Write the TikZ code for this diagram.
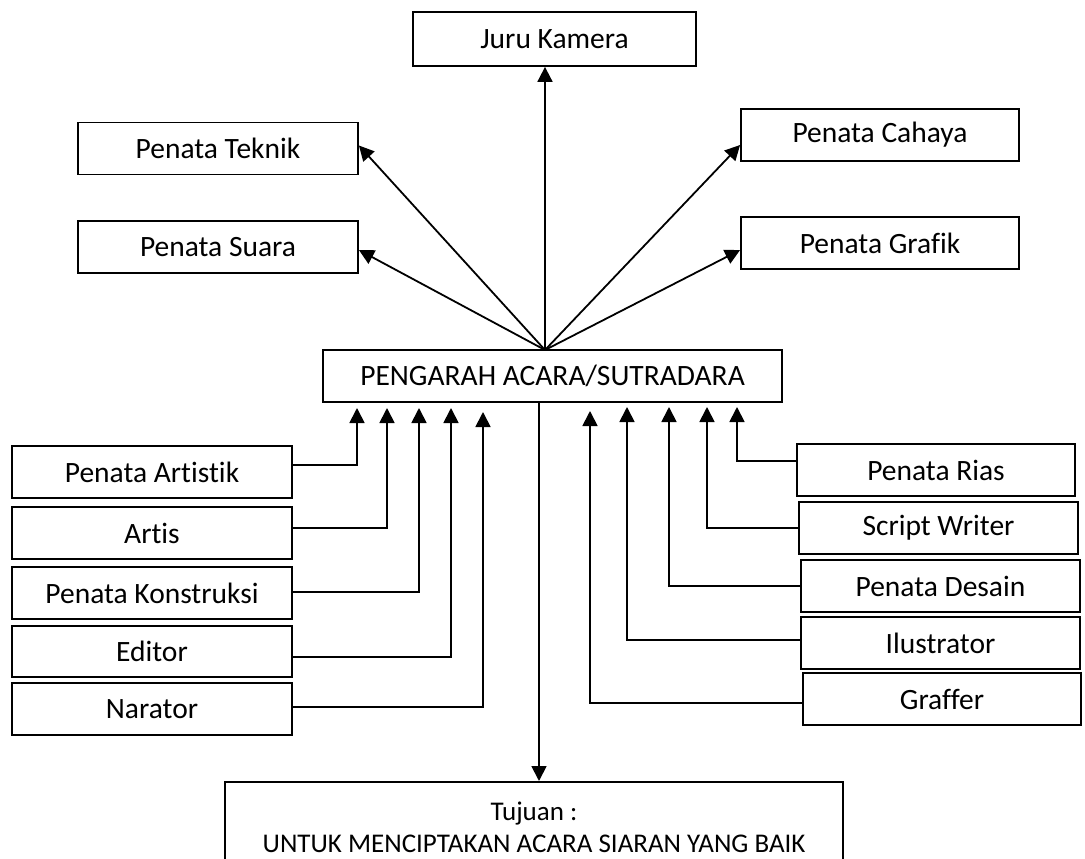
\documentclass[tikz,border=0pt]{standalone}
\usepackage{fontspec}
\setmainfont{Carlito}[Ligatures=NoCommon]
\usetikzlibrary{arrows.meta}
\begin{document}
\begin{tikzpicture}[x=1pt,y=-1pt,
  box/.style={draw,line width=1.8pt,minimum width=280pt,minimum height=52pt,inner sep=0pt,font=\fontsize{29.5}{34}\selectfont},
  arr/.style={line width=1.8pt,-{Triangle[width=15pt,length=15pt]}}]
\useasboundingbox (0,0) rectangle (1085,859);
\clip (0,0) rectangle (1085,859);
% top group
\node[box,minimum width=283pt,minimum height=54pt] (jk) at (554.5,39) {Juru Kamera};
\node[box] (teknik) at (218,148.5) {Penata Teknik};
\node[box] (suara) at (218,247) {Penata Suara};
\node[box,minimum width=278pt] (cahaya) at (880,135) {Penata Cahaya};
\node[box,minimum width=278pt] (grafik) at (880,243) {Penata Grafik};
\node[box,minimum width=459pt] (peng) at (552.5,376) {PENGARAH ACARA/SUTRADARA};
% left group
\node[box] (artistik) at (152,472) {Penata Artistik};
\node[box] (artis) at (152,533) {Artis};
\node[box] (konstruksi) at (152,593) {Penata Konstruksi};
\node[box,minimum height=51pt] (editor) at (152,651.5) {Editor};
\node[box] (narator) at (152,709) {Narator};
% right group
\node[box,minimum width=278pt] (rias) at (936,470) {Penata Rias};
\node[box,minimum width=279pt] (script) at (938.5,528) {Script Writer};
\node[box,minimum width=279pt] (desain) at (940.5,586) {Penata Desain};
\node[box,minimum width=279pt] (ilus) at (940.5,643) {Ilustrator};
\node[box,minimum width=278pt] (graffer) at (942,699) {Graffer};
% bottom
\node[box,minimum width=618pt,minimum height=90pt,anchor=north,align=center,font=\fontsize{27}{32}\selectfont] (tujuan) at (534,781) {Tujuan :\\UNTUK MENCIPTAKAN ACARA SIARAN YANG BAIK};
% coordinates
\coordinate (src) at (545,350);
\coordinate (bot) at (539,402);
\coordinate (la1) at (357,408);
\coordinate (la2) at (387,408);
\coordinate (la3) at (419,408);
\coordinate (la4) at (451,408);
\coordinate (la5) at (483,412);
\coordinate (ra1) at (737,407);
\coordinate (ra2) at (707,407);
\coordinate (ra3) at (669,407);
\coordinate (ra4) at (627,407);
\coordinate (ra5) at (590,411);
% top arrows
\draw[arr] (src) -- (src |- jk.south);
\draw[arr] (src) -- ([yshift=3pt]teknik.east);
\draw[arr] (src) -- ([yshift=-3pt]suara.east);
\draw[arr] (src) -- ([yshift=-10pt]cahaya.west);
\draw[arr] (src) -- ([yshift=-7pt]grafik.west);
% left connectors
\draw[arr] ([yshift=7pt]artistik.east) -| (la1);
\draw[arr] ([yshift=5pt]artis.east) -| (la2);
\draw[arr] ([yshift=1pt]konstruksi.east) -| (la3);
\draw[arr] ([yshift=-5.5pt]editor.east) -| (la4);
\draw[arr] ([yshift=2pt]narator.east) -| (la5);
% right connectors
\draw[arr] ([yshift=9pt]rias.west) -| (ra1);
\draw[arr] (script.west) -| (ra2);
\draw[arr] (desain.west) -| (ra3);
\draw[arr] ([yshift=3pt]ilus.west) -| (ra4);
\draw[arr] ([yshift=-4pt]graffer.west) -| (ra5);
% bottom arrow
\draw[arr] (bot) -- (bot |- tujuan.north);
\end{tikzpicture}
\end{document}
